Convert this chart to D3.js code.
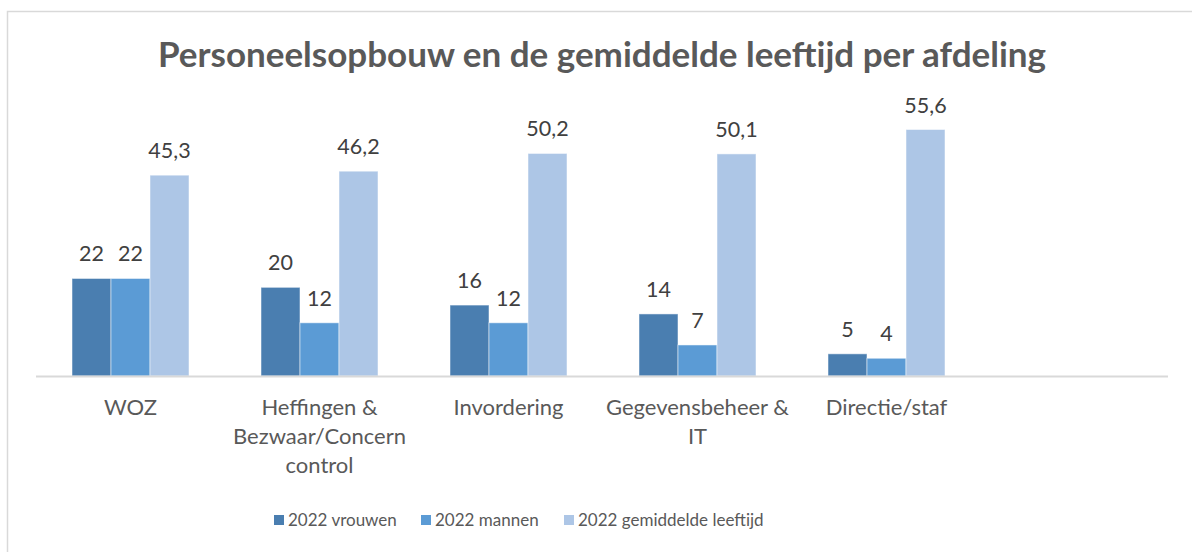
<!DOCTYPE html>
<meta charset="utf-8">
<style>
body { margin: 0; background: #fff; }
text { font-family: Lato, "Open Sans", sans-serif; }
</style>
<body>
<script src="https://d3js.org/d3.v7.min.js"></script>
<script>

// data
var categories = ["WOZ", "Heffingen & Bezwaar/Concern control", "Invordering", "Gegevensbeheer & IT", "Directie/staf"];
var categoryLines = [["WOZ"], ["Heffingen &", "Bezwaar/Concern", "control"], ["Invordering"], ["Gegevensbeheer &", "IT"], ["Directie/staf"]];
var seriesNames = ["2022 vrouwen", "2022 mannen", "2022 gemiddelde leeftijd"];
var vrouwen = [22, 20, 16, 14, 5];
var mannen = [22, 12, 12, 7, 4];
var leeftijd = [45.3, 46.2, 50.2, 50.1, 55.6];
var colors = ["#4a7eb0", "#5b9bd5", "#adc6e6"];

var w = 1192, h = 552;

var svg = d3.select("body").append("svg")
    .attr("width", w)
    .attr("height", h);

// chart border (runs past the right/bottom edge)
svg.append("rect")
    .attr("x", 7.5).attr("y", 11.5)
    .attr("width", 1200).attr("height", 600)
    .attr("fill", "none")
    .attr("stroke", "#d9d9d9")
    .attr("stroke-width", 1.5);

svg.append("text")
    .attr("x", 602).attr("y", 67)
    .attr("text-anchor", "middle")
    .attr("font-size", 35)
    .attr("font-weight", "bold")
    .attr("fill", "#595959")
    .text("Personeelsopbouw en de gemiddelde leeftijd per afdeling");

// six slots, last one empty like in the original
var slots = categories.concat([""]);
var x = d3.scaleBand()
    .domain(d3.range(slots.length))
    .range([36, 1170]);

var x1 = d3.scaleBand()
    .domain(d3.range(3))
    .range([0, 117]);
var groupOffset = (x.bandwidth() - 117) / 2;

var y = d3.scaleLinear()
    .domain([0, 60])
    .range([376, 110]);

var rows = categories.map(function(c, i) {
    return [vrouwen[i], mannen[i], leeftijd[i]];
});

var groups = svg.selectAll("g.grp")
    .data(rows)
    .enter().append("g")
    .attr("class", "grp")
    .attr("transform", function(d, i) { return "translate(" + (x(i) + groupOffset) + ",0)"; });

groups.selectAll("rect")
    .data(function(d) { return d; })
    .enter().append("rect")
    .attr("x", function(d, j) { return x1(j); })
    .attr("y", function(d) { return y(d); })
    .attr("width", x1.bandwidth())
    .attr("height", function(d) { return y(0) - y(d); })
    .attr("fill", function(d, j) { return colors[j]; })
    .attr("stroke", "#ffffff")
    .attr("stroke-opacity", 0.5)
    .attr("stroke-width", 1);

groups.selectAll("text.val")
    .data(function(d) { return d; })
    .enter().append("text")
    .attr("class", "val")
    .attr("x", function(d, j) { return x1(j) + x1.bandwidth() / 2; })
    .attr("y", function(d) { return y(d) - 17; })
    .attr("text-anchor", "middle")
    .attr("font-size", 21.5)
    .attr("fill", "#404040")
    .text(function(d) { return String(d).replace(".", ","); });

// axis line
svg.append("line")
    .attr("x1", 36).attr("x2", 1168)
    .attr("y1", 376.5).attr("y2", 376.5)
    .attr("stroke", "#d9d9d9")
    .attr("stroke-width", 2);

// category labels
var cats = svg.selectAll("text.cat")
    .data(categoryLines)
    .enter().append("text")
    .attr("class", "cat")
    .attr("text-anchor", "middle")
    .attr("font-size", 22)
    .attr("fill", "#595959");

cats.selectAll("tspan")
    .data(function(d, i) { return d.map(function(t) { return {t: t, i: i}; }); })
    .enter().append("tspan")
    .attr("x", function(d) { return x(d.i) + x.bandwidth() / 2; })
    .attr("y", function(d, k) { return 415 + k * 29; })
    .text(function(d) { return d.t; });

// legend
var legendX = [274, 421, 564];
var legend = svg.selectAll("g.leg")
    .data(seriesNames)
    .enter().append("g")
    .attr("class", "leg")
    .attr("transform", function(d, i) { return "translate(" + legendX[i] + ",515)"; });

legend.append("rect")
    .attr("width", 10).attr("height", 10)
    .attr("fill", function(d, i) { return colors[i]; });

legend.append("text")
    .attr("x", 14).attr("y", 11)
    .attr("font-size", 17)
    .attr("fill", "#595959")
    .text(function(d) { return d; });

</script>
</body>
